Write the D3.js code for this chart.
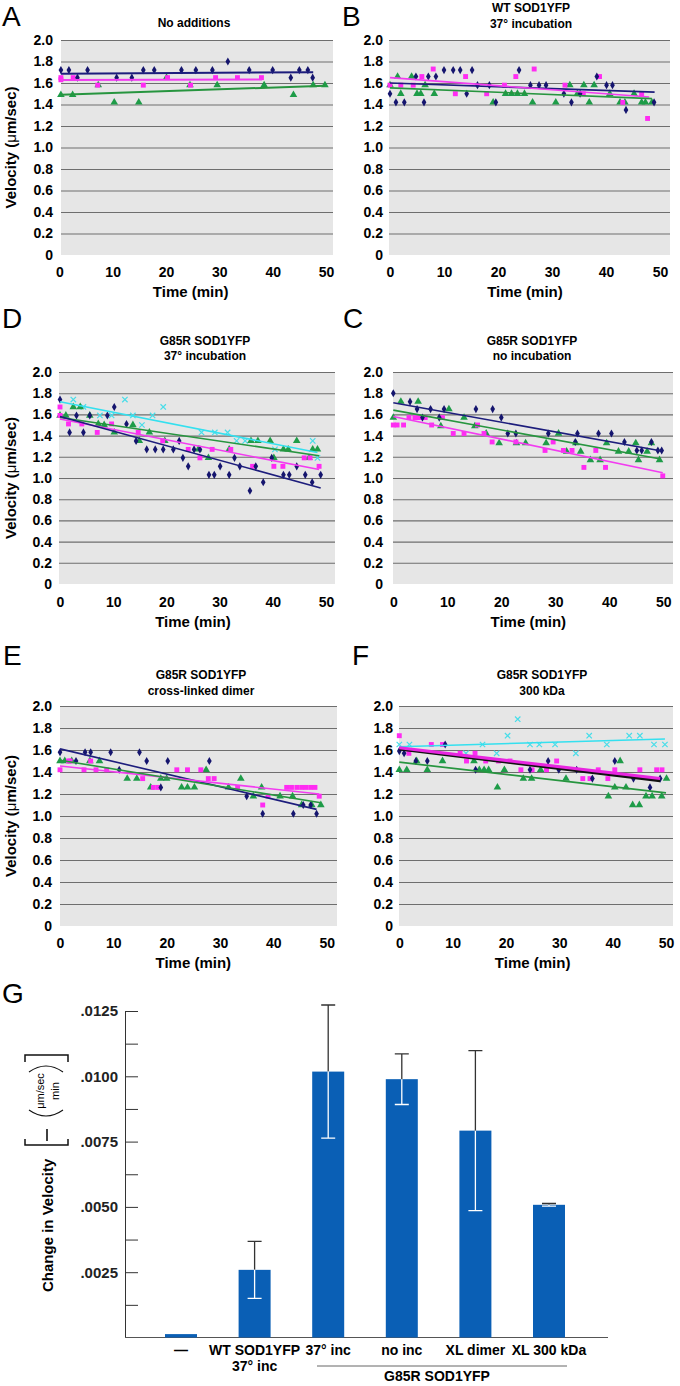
<!DOCTYPE html>
<html><head><meta charset="utf-8">
<script src="https://cdn.jsdelivr.net/npm/d3@7"></script>
<style>body{margin:0;background:#fff}svg{display:block}text{font-family:"Liberation Sans",Arial,Helvetica,sans-serif}</style>
</head><body><svg id="c" width="680" height="1386"></svg>
<script>
// ---------- DATA ----------
const xTicks=[0,10,20,30,40,50];
const yTicks=[0,0.2,0.4,0.6,0.8,1.0,1.2,1.4,1.6,1.8,2.0];

// Panel A : No additions
const A_navy=[[0.3,1.72],[1.8,1.72],[3.4,1.65],[5.3,1.72],[10.75,1.65],[13.6,1.65],[15.75,1.72],[17.8,1.72],[22.9,1.72],[25.6,1.72],[28.7,1.72],[31.6,1.8],[35.6,1.72],[40,1.72],[43.4,1.65],[45,1.72],[46.6,1.72],[47.5,1.65]];
const A_mag=[[0.3,1.65],[0.3,1.63],[2.6,1.65],[7.2,1.58],[15.75,1.58],[20.3,1.65],[24.6,1.58],[29.3,1.65],[33.4,1.65],[37.9,1.65]];
const A_green=[[0.3,1.49],[2.5,1.49],[7.3,1.58],[10.3,1.42],[14.9,1.42],[20.1,1.65],[24.5,1.58],[29.6,1.58],[38.4,1.58],[43.9,1.49],[47.6,1.58],[49.8,1.58]];
const A_fits=[["navy",0.3,1.687,47.6,1.70],["mag",0.3,1.628,38,1.632],["green",0.3,1.49,49.8,1.575]];

// Panel B : WT SOD1YFP 37° incubation
const B_navy=[[0,1.5],[1.1,1.42],[2.65,1.42],[4.8,1.66],[6.3,1.42],[7.1,1.66],[8.5,1.66],[10,1.72],[11.7,1.72],[13,1.72],[14.2,1.5],[15.2,1.72],[16.2,1.58],[18.4,1.58],[19.6,1.42],[23.9,1.72],[26,1.58],[27.6,1.58],[28.9,1.58],[32.2,1.5],[33.6,1.42],[35.2,1.5],[38.3,1.66],[40.1,1.58],[41.2,1.58],[43.7,1.35],[48.9,1.42]];
const B_mag=[[0,1.58],[2,1.58],[4.3,1.58],[5.9,1.66],[8,1.73],[12.1,1.5],[14,1.66],[17.9,1.5],[21.2,1.58],[23.3,1.66],[26.7,1.73],[32.4,1.58],[35.8,1.5],[38.8,1.66],[43.1,1.42],[46.6,1.5],[47.7,1.27]];
const B_green=[[0,1.58],[1.4,1.66],[2,1.5],[4,1.66],[5,1.5],[5.7,1.5],[6.5,1.58],[8.2,1.5],[19.1,1.42],[21.4,1.5],[22.5,1.5],[23.6,1.5],[24.9,1.5],[26.4,1.42],[30.7,1.42],[33.3,1.58],[34.7,1.5],[35.9,1.58],[36.9,1.42],[37.8,1.58],[40.7,1.5],[42.6,1.42],[43.5,1.42],[45.2,1.5],[46.6,1.42],[47.3,1.42],[48.5,1.42]];
const B_fits=[["navy",0,1.60,49,1.515],["mag",0,1.65,48,1.47],["green",0,1.555,48.5,1.455]];

// Panel D : G85R SOD1YFP 37° incubation
const D_navy=[[0,1.74],[1.8,1.43],[3.1,1.59],[4.4,1.43],[5.6,1.59],[8.9,1.59],[10.2,1.67],[12.5,1.51],[14.3,1.35],[16.3,1.27],[17.9,1.27],[19.4,1.27],[21.3,1.27],[22.4,1.35],[23.1,1.19],[24.1,1.11],[25.2,1.27],[26.3,1.27],[28,1.03],[29,1.03],[30.1,1.11],[31.8,1.03],[32.8,1.19],[33.8,1.11],[35.7,0.88],[36.8,1.11],[38.2,0.96],[39.8,1.19],[42,1.03],[43.1,1.03],[44.5,1.11],[46.1,1.03],[47.4,0.96],[49,1.03]];
const D_mag=[[0,1.67],[0,1.59],[1.6,1.51],[4.1,1.51],[7,1.43],[9.7,1.51],[14.7,1.43],[19.3,1.35],[24.1,1.27],[26.3,1.19],[28.6,1.27],[32.1,1.27],[36.2,1.11],[40.2,1.11],[41.9,1.11],[45.9,1.19],[47,1.19],[48.7,1.11]];
const D_green=[[0,1.59],[1.1,1.59],[2.5,1.67],[3.8,1.67],[5.6,1.59],[7.2,1.51],[8.3,1.50],[10.2,1.43],[13.7,1.50],[14.9,1.35],[16.8,1.43],[19.7,1.35],[26,1.27],[27.9,1.19],[31.8,1.27],[35.9,1.35],[37.2,1.35],[39.5,1.35],[40.2,1.19],[42,1.27],[42.9,1.27],[44.5,1.35],[46.8,1.19],[47.5,1.27],[48.4,1.27]];
const D_cyan=[[2.5,1.74],[4.4,1.67],[7.5,1.59],[9.7,1.59],[12.2,1.74],[13.7,1.59],[15.4,1.50],[17.4,1.59],[19.4,1.67],[26.6,1.43],[29.1,1.43],[31.5,1.43],[33.2,1.35],[34.8,1.35],[40.4,1.27],[47.5,1.35],[48.4,1.19]];
const D_fits=[["cyan",0,1.72,48.4,1.24],["green",0,1.57,48.7,1.21],["mag",0,1.556,48.7,1.08],["navy",0,1.58,49,0.906]];

// Panel C : G85R SOD1YFP no incubation
const C_navy=[[0,1.80],[3.1,1.72],[4.4,1.65],[5.4,1.57],[6.9,1.65],[8.5,1.57],[9.4,1.65],[15.3,1.65],[18.4,1.65],[20,1.57],[21.2,1.42],[22.7,1.42],[28.7,1.42],[33.7,1.34],[34.1,1.42],[38,1.42],[40.4,1.42],[42.8,1.34],[45.1,1.26],[46,1.26],[47.8,1.34],[49,1.26],[49.7,1.26]];
const C_mag=[[0,1.50],[0.7,1.50],[1.9,1.50],[2.9,1.57],[4,1.57],[4.8,1.57],[5.9,1.57],[7.1,1.50],[9.1,1.57],[11.1,1.42],[13.1,1.42],[15.6,1.50],[16.8,1.42],[18.3,1.34],[22.7,1.34],[28.1,1.26],[29.6,1.34],[31.5,1.26],[33.1,1.26],[35.3,1.10],[37.5,1.26],[39.3,1.10],[49.9,1.02]];
const C_green=[[0,1.57],[1.4,1.72],[4.6,1.72],[8.8,1.49],[10.3,1.65],[13.1,1.57],[15.1,1.49],[17.2,1.42],[19.6,1.33],[22.8,1.33],[24.5,1.33],[28.3,1.33],[30.6,1.42],[32.1,1.25],[33.8,1.33],[34.7,1.25],[36.5,1.17],[38.3,1.17],[39.5,1.33],[41.7,1.25],[43.6,1.25],[44.9,1.33],[45.4,1.17],[47,1.25],[47.8,1.33],[49.3,1.17]];
const C_fits=[["navy",0,1.71,49.7,1.254],["green",0,1.64,49.5,1.18],["mag",0,1.58,49.9,1.05]];

// Panel E : G85R SOD1YFP cross-linked dimer
const E_navy=[[0,1.58],[3,1.50],[4.7,1.58],[5.75,1.58],[9.5,1.58],[11.1,1.42],[14.9,1.58],[16.25,1.50],[18.9,1.26],[20.2,1.50],[28,1.50],[35,1.18],[38,1.02],[43.75,1.02],[45.6,1.10],[47,1.10],[48.1,1.02]];
const E_mag=[[0,1.42],[1.6,1.50],[1.9,1.5],[4.5,1.42],[5.75,1.5],[6.75,1.42],[8.75,1.42],[15.5,1.34],[17.5,1.26],[18.4,1.26],[21.9,1.42],[23.9,1.42],[26.4,1.42],[27.8,1.34],[28.9,1.34],[33.3,1.26],[38,1.10],[39,1.18],[42.5,1.26],[43.4,1.26],[44.4,1.26],[45.3,1.26],[46.1,1.26],[47,1.26],[47.8,1.26],[48.6,1.18]];
const E_green=[[0,1.50],[0.9,1.5],[2.2,1.5],[5.6,1.5],[7.4,1.5],[12.6,1.34],[14.4,1.34],[17,1.26],[18.9,1.34],[20,1.34],[22.8,1.26],[23.9,1.26],[25.2,1.26],[27.4,1.42],[31.6,1.26],[33.9,1.34],[36.25,1.18],[37.8,1.26],[41.25,1.18],[43.6,1.18],[45.3,1.10],[47.2,1.10],[48.9,1.10]];
const E_fits=[["navy",0,1.61,48.1,1.06],["mag",0,1.455,48.6,1.20],["green",0,1.507,48.9,1.12]];

// Panel F : G85R SOD1YFP 300 kDa
const F_navy=[[0,1.59],[0.9,1.57],[3.1,1.50],[5.25,1.50],[8.6,1.65],[14.3,1.42],[24.5,1.42],[27.9,1.50],[29.9,1.42],[33.25,1.42],[36.2,1.34],[40.4,1.50],[43.9,1.34],[47,1.26],[48.9,1.34]];
const F_mag=[[0,1.73],[1.8,1.57],[6,1.65],[8.1,1.65],[11.4,1.57],[12.6,1.5],[14.2,1.57],[16.2,1.5],[18.6,1.5],[20.75,1.5],[22.8,1.42],[24.9,1.42],[27.6,1.42],[29.5,1.5],[34.4,1.34],[35.75,1.34],[37.3,1.42],[39.1,1.34],[40.4,1.42],[45.1,1.42],[48.25,1.42],[49.25,1.42]];
const F_green=[[0,1.42],[1.4,1.42],[3.25,1.50],[5.25,1.42],[8.1,1.5],[14,1.5],[15,1.42],[15.9,1.42],[16.75,1.42],[18.4,1.26],[19.7,1.42],[23.25,1.34],[24.8,1.34],[26.5,1.42],[31.25,1.34],[39.2,1.18],[40.4,1.26],[41.4,1.5],[42.5,1.26],[43.75,1.10],[45,1.10],[46.25,1.18],[47.4,1.18],[49.2,1.18],[50.1,1.34]];
const F_cyan=[[0,1.65],[1.9,1.65],[12.5,1.57],[15.6,1.65],[18.25,1.57],[20.3,1.73],[22.2,1.88],[24.5,1.65],[26.25,1.65],[29.2,1.65],[33.1,1.57],[35.6,1.73],[38.9,1.65],[43.1,1.73],[45.1,1.73],[47.75,1.65],[49.8,1.65]];
const F_fits=[["cyan",0,1.63,49.8,1.70],["green",0,1.49,50,1.21],["black",0,1.61,48.9,1.32],["magthick",0,1.62,48.9,1.34]];

// Panel G : bar chart
const gCats=["—","WT SOD1YFP|37° inc","37° inc","no inc","XL dimer","XL 300 kDa"];
const gVals=[0.00013,0.00259,0.01018,0.00989,0.00792,0.00508];
const gErr=[0,0.00109,0.00255,0.00097,0.00306,0.00005];
const gTicks=[0.00125,0.0025,0.00375,0.005,0.00625,0.0075,0.00875,0.01,0.01125,0.0125];

// ---------- DRAWING ----------
const svg=d3.select("#c");
const COL={navy:"#15156e",mag:"#ff2cf2",green:"#1e9c48",cyan:"#47dde9"};
const LINE={navy:"#1d1d7c",mag:"#f23cf0",green:"#27953f",cyan:"#34e0ef",black:"#111",magthick:"#e826e0"};

function panel(cfg){
  const g=svg.append("g");
  const x=d3.scaleLinear().domain([0,50]).range(cfg.xr);
  const y=d3.scaleLinear().domain([0,2]).range(cfg.yr);
  g.append("rect").attr("x",cfg.gx[0]).attr("y",y(2)).attr("width",cfg.gx[1]-cfg.gx[0]).attr("height",y(0)-y(2)).attr("fill","#e6e6e6");
  const grid=g.append("g").attr("transform",`translate(${cfg.gx[0]},0)`)
    .call(d3.axisLeft(y).tickValues(yTicks.filter(d=>d>0)).tickSize(-(cfg.gx[1]-cfg.gx[0])).tickFormat(""));
  grid.select(".domain").remove();
  grid.selectAll("line").attr("stroke","#6e6e6e").attr("stroke-width",1.1);
  const ya=g.append("g").attr("transform",`translate(${cfg.gx[0]},0)`)
    .call(d3.axisLeft(y).tickValues(yTicks).tickSize(0).tickPadding(cfg.gx[0]-cfg.tickRight).tickFormat(d=>d===0?"0":d.toFixed(1)));
  ya.select(".domain").remove();
  ya.selectAll("text").attr("font-size",14).attr("font-weight","bold").attr("fill","#000").attr("font-family",'"Liberation Sans",Arial,sans-serif');
  const xa=g.append("g").attr("transform",`translate(0,${y(0)})`)
    .call(d3.axisBottom(x).tickValues(xTicks).tickSize(0).tickPadding(cfg.xpad));
  xa.select(".domain").remove();
  xa.selectAll("text").attr("font-size",14).attr("font-weight","bold").attr("fill","#000").attr("font-family",'"Liberation Sans",Arial,sans-serif');
  g.append("text").attr("x",(cfg.xr[0]+cfg.xr[1])/2+cfg.timeDx).attr("y",cfg.timeY).attr("text-anchor","middle")
    .attr("font-size",15).attr("font-weight","bold").text("Time (min)");
  g.append("text").attr("x",cfg.lx).attr("y",cfg.ly).attr("font-size",28).text(cfg.letter);
  cfg.title.forEach((t,i)=>g.append("text").attr("x",cfg.tx).attr("y",cfg.ty[i]).attr("text-anchor","middle")
    .attr("font-size",12).attr("font-weight","bold").text(t));
  if(cfg.ylab){
    const t=g.append("text").attr("transform",`translate(${cfg.ylabX},${(y(0)+y(2))/2}) rotate(-90)`)
      .attr("text-anchor","middle").attr("font-size",15).attr("font-weight","bold");
    t.append("tspan").text("Velocity (");
    t.append("tspan").attr("font-weight","normal").text("μ");
    t.append("tspan").text("m/sec)");
  }
  const mk=g.append("g");
  const sym={navy:d3.symbol(d3.symbolDiamond,19),mag:d3.symbol(d3.symbolSquare,24),green:d3.symbol(d3.symbolTriangle,25)};
  cfg.series.forEach(([key,data])=>{
    if(key==="cyan"){
      mk.selectAll(null).data(data).join("path")
        .attr("d","M-2.7,-2.7L2.7,2.7M2.7,-2.7L-2.7,2.7")
        .attr("transform",d=>`translate(${x(d[0])},${y(d[1])})`)
        .attr("stroke",COL.cyan).attr("stroke-width",1.2).attr("fill","none");
    } else {
      mk.selectAll(null).data(data).join("path")
        .attr("d",sym[key]).attr("transform",d=>`translate(${x(d[0])},${y(d[1])})`)
        .attr("fill",COL[key]);
    }
  });
  const ln=d3.line().x(d=>x(d[0])).y(d=>y(d[1]));
  cfg.fits.forEach(f=>{
    const k=f[0];
    g.append("path").attr("d",ln([[f[1],f[2]],[f[3],f[4]]]))
      .attr("stroke",LINE[k]).attr("fill","none")
      .attr("stroke-width",(k==="black"||k==="magthick")?3:cfg.lw);
  });
}

panel({letter:"A",lx:2,ly:26,title:["No additions"],tx:194,ty:[27],gx:[61,333],xr:[59.3,326],yr:[255,40],
  tickRight:53,xpad:12,timeY:297,timeDx:-2,ylab:true,ylabX:16,lw:2,
  series:[["green",A_green],["mag",A_mag],["navy",A_navy]],fits:A_fits});
panel({letter:"B",lx:342,ly:26,title:["WT SOD1YFP","37° incubation"],tx:531,ty:[12,27.5],gx:[389,670],xr:[390,660],yr:[255,40],
  tickRight:383,xpad:12,timeY:297,timeDx:0,ylab:false,lw:1.6,
  series:[["green",B_green],["mag",B_mag],["navy",B_navy]],fits:B_fits});
panel({letter:"D",lx:2,ly:328,title:["G85R SOD1YFP","37° incubation"],tx:205,ty:[344.5,359.5],gx:[59,335],xr:[60,326],yr:[584,372],
  tickRight:52,xpad:13,timeY:627,timeDx:0,ylab:true,ylabX:16,lw:1.6,
  series:[["cyan",D_cyan],["green",D_green],["mag",D_mag],["navy",D_navy]],fits:D_fits});
panel({letter:"C",lx:343,ly:328,title:["G85R SOD1YFP","no incubation"],tx:532,ty:[344.5,359.5],gx:[393,673],xr:[393.3,663.3],yr:[584,372],
  tickRight:383,xpad:13,timeY:627,timeDx:0,ylab:false,lw:1.6,
  series:[["green",C_green],["mag",C_mag],["navy",C_navy]],fits:C_fits});
panel({letter:"E",lx:3,ly:665,title:["G85R SOD1YFP","cross-linked dimer"],tx:201,ty:[678.5,694.5],gx:[60,337],xr:[60,326.7],yr:[926,706],
  tickRight:52,xpad:12,timeY:968,timeDx:0,ylab:true,ylabX:16,lw:1.6,
  series:[["green",E_green],["mag",E_mag],["navy",E_navy]],fits:E_fits});
panel({letter:"F",lx:352,ly:665,title:["G85R SOD1YFP","300 kDa"],tx:542,ty:[678.5,694.5],gx:[399,673],xr:[399.3,666],yr:[926,706],
  tickRight:393,xpad:12,timeY:968,timeDx:0,ylab:false,lw:1.6,
  series:[["cyan",F_cyan],["green",F_green],["mag",F_mag],["navy",F_navy]],fits:F_fits});

// ---------- PANEL G ----------
(function(){
  const g=svg.append("g");
  const xG=d3.scalePoint().domain(gCats).range([181,549]);
  const yG=d3.scaleLinear().domain([0,0.0125]).range([1337.5,1011]);
  const bw=32;
  g.append("text").attr("x",2).attr("y",1003).attr("font-size",28).text("G");
  const ya=g.append("g").attr("transform","translate(125,0)")
    .call(d3.axisLeft(yG).tickValues(gTicks).tickSize(-13).tickSizeOuter(0).tickPadding(7)
      .tickFormat(d=>(Math.round(d*10000)%25===0)?d.toFixed(4).replace(/^0/,""):""));
  ya.select(".domain").attr("stroke","#333");
  ya.selectAll("line").attr("stroke","#333");
  ya.selectAll("text").attr("font-size",15).attr("font-weight","bold").attr("fill","#222").attr("font-family",'"Liberation Sans",Arial,sans-serif');
  g.append("line").attr("x1",125).attr("x2",608).attr("y1",yG(0)).attr("y2",yG(0)).attr("stroke","#555").attr("stroke-width",1.2);
  const bars=gCats.map((c,i)=>({c,v:gVals[i],e:gErr[i]}));
  g.selectAll(".bar").data(bars).join("rect")
    .attr("x",d=>xG(d.c)-bw/2).attr("width",bw).attr("y",d=>yG(d.v)).attr("height",d=>yG(0)-yG(d.v))
    .attr("fill","#0a5fb5");
  const eb=bars.filter(d=>d.e>0);
  g.selectAll(".eu").data(eb).join("path")
    .attr("d",d=>`M${xG(d.c)},${yG(d.v)}V${yG(d.v+d.e)}M${xG(d.c)-7},${yG(d.v+d.e)}H${xG(d.c)+7}`)
    .attr("stroke","#333").attr("stroke-width",1.3).attr("fill","none");
  g.selectAll(".el").data(eb).join("path")
    .attr("d",d=>`M${xG(d.c)},${yG(d.v)}V${yG(d.v-d.e)}M${xG(d.c)-7},${yG(d.v-d.e)}H${xG(d.c)+7}`)
    .attr("stroke","#fff").attr("stroke-width",1.3).attr("fill","none");
  bars.forEach(d=>{
    d.c.split("|").forEach((t,j)=>g.append("text").attr("x",xG(d.c)).attr("y",1355+j*16).attr("text-anchor","middle")
      .attr("font-size",14).attr("font-weight","bold").text(t));
  });
  g.append("line").attr("x1",317).attr("x2",567).attr("y1",1366).attr("y2",1366).attr("stroke","#666").attr("stroke-width",1);
  g.append("text").attr("x",437).attr("y",1381).attr("text-anchor","middle").attr("font-size",14).attr("font-weight","bold").text("G85R SOD1YFP");
  const yl=g.append("g").attr("transform","translate(0,1292) rotate(-90)");
  yl.append("text").attr("x",0).attr("y",53).attr("font-size",15).attr("font-weight","bold").text("Change in Velocity");
  yl.append("path").attr("d","M153,25H147V68H153M230,25H237V68H230").attr("stroke","#111").attr("stroke-width",1.5).attr("fill","none");
  yl.append("path").attr("d","M151,47H163").attr("stroke","#111").attr("stroke-width",1.6);
  yl.append("path").attr("d","M182,29Q170,46 182,63M220,29Q232,46 220,63").attr("stroke","#111").attr("stroke-width",1.1).attr("fill","none");
  yl.append("text").attr("x",201).attr("y",44).attr("text-anchor","middle").attr("font-size",11).text("μm/sec");
  yl.append("text").attr("x",201).attr("y",59).attr("text-anchor","middle").attr("font-size",11).text("min");
})();
</script></body></html>
